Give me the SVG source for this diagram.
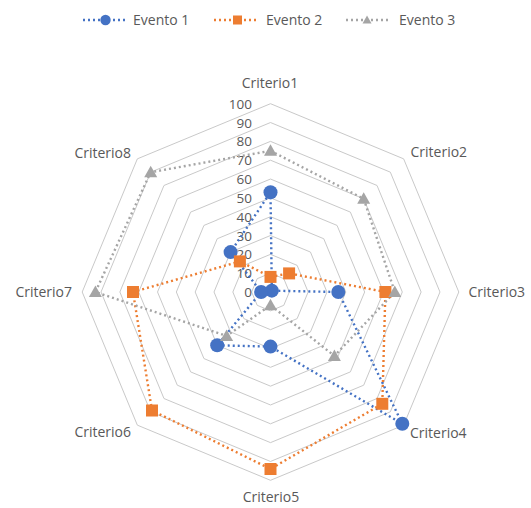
<svg xmlns="http://www.w3.org/2000/svg" width="531" height="508" viewBox="0 0 531 508">
<style>
  text { font-family: "Open Sans", "Liberation Sans", sans-serif; fill: #595959; }
  .lbl { font-size: 14px; }
  .num { font-size: 13.5px; text-anchor: end; }
  .grid polygon { fill: none; stroke: #c9c9c9; stroke-width: 1; }
  .s1 { fill: none; stroke: #4472C4; stroke-width: 2.4; stroke-dasharray: 2 3; stroke-linejoin: round; }
  .s2 { fill: none; stroke: #ED7D31; stroke-width: 2.4; stroke-dasharray: 2 3; stroke-linejoin: round; }
  .s3 { fill: none; stroke: #A5A5A5; stroke-width: 2.4; stroke-dasharray: 2 3; stroke-linejoin: round; }
</style>
<defs>
  <circle id="m1" r="7" fill="#4472C4"/>
  <rect id="m2" x="-6" y="-6" width="12" height="12" fill="#ED7D31"/>
  <polygon id="m3" points="0,-6.5 6.5,5 -6.5,5" fill="#A5A5A5"/>
  <circle id="l1" r="5.2" fill="#4472C4"/>
  <rect id="l2" x="-4.5" y="-4.5" width="9" height="9" fill="#ED7D31"/>
  <polygon id="l3" points="0,-4.5 4.5,3.5 -4.5,3.5" fill="#A5A5A5"/>
</defs>
<rect width="531" height="508" fill="#ffffff"/>

<g id="legend">
  <line class="s1" x1="83" y1="20" x2="126" y2="20"/>
  <use href="#l1" x="105.5" y="20"/>
  <text class="lbl" x="133" y="25">Evento 1</text>
  <line class="s2" x1="214" y1="20" x2="258" y2="20"/>
  <use href="#l2" x="237.5" y="20"/>
  <text class="lbl" x="266" y="25">Evento 2</text>
  <line class="s3" x1="346" y1="20" x2="390" y2="20"/>
  <use href="#l3" x="367" y="20"/>
  <text class="lbl" x="399" y="25">Evento 3</text>
</g>

<g id="grid" class="grid" transform="translate(270.5,292)">
  <polygon points="0,-18.83 13.31,-13.31 18.83,0 13.31,13.31 0,18.83 -13.31,13.31 -18.83,0 -13.31,-13.31"/>
  <polygon points="0,-37.66 26.63,-26.63 37.66,0 26.63,26.63 0,37.66 -26.63,26.63 -37.66,0 -26.63,-26.63"/>
  <polygon points="0,-56.49 39.94,-39.94 56.49,0 39.94,39.94 0,56.49 -39.94,39.94 -56.49,0 -39.94,-39.94"/>
  <polygon points="0,-75.32 53.26,-53.26 75.32,0 53.26,53.26 0,75.32 -53.26,53.26 -75.32,0 -53.26,-53.26"/>
  <polygon points="0,-94.15 66.57,-66.57 94.15,0 66.57,66.57 0,94.15 -66.57,66.57 -94.15,0 -66.57,-66.57"/>
  <polygon points="0,-112.98 79.89,-79.89 112.98,0 79.89,79.89 0,112.98 -79.89,79.89 -112.98,0 -79.89,-79.89"/>
  <polygon points="0,-131.81 93.2,-93.2 131.81,0 93.2,93.2 0,131.81 -93.2,93.2 -131.81,0 -93.2,-93.2"/>
  <polygon points="0,-150.64 106.52,-106.52 150.64,0 106.52,106.52 0,150.64 -106.52,106.52 -150.64,0 -106.52,-106.52"/>
  <polygon points="0,-169.47 119.83,-119.83 169.47,0 119.83,119.83 0,169.47 -119.83,119.83 -169.47,0 -119.83,-119.83"/>
  <polygon points="0,-188.3 133.15,-133.15 188.3,0 133.15,133.15 0,188.3 -133.15,133.15 -188.3,0 -133.15,-133.15"/>
</g>

<g id="axis-values">
  <text class="num" x="252" y="297">0</text>
  <text class="num" x="252" y="278.2">10</text>
  <text class="num" x="252" y="259.3">20</text>
  <text class="num" x="252" y="240.5">30</text>
  <text class="num" x="252" y="221.7">40</text>
  <text class="num" x="252" y="202.9">50</text>
  <text class="num" x="252" y="184">60</text>
  <text class="num" x="252" y="165.2">70</text>
  <text class="num" x="252" y="146.4">80</text>
  <text class="num" x="252" y="127.5">90</text>
  <text class="num" x="252" y="108.7">100</text>
</g>

<g id="category-labels">
  <text class="lbl" x="270" y="88" text-anchor="middle">Criterio1</text>
  <text class="lbl" x="410.5" y="157">Criterio2</text>
  <text class="lbl" x="468.5" y="297">Criterio3</text>
  <text class="lbl" x="410" y="438">Criterio4</text>
  <text class="lbl" x="271" y="502" text-anchor="middle">Criterio5</text>
  <text class="lbl" x="131" y="437" text-anchor="end">Criterio6</text>
  <text class="lbl" x="72" y="297" text-anchor="end">Criterio7</text>
  <text class="lbl" x="131" y="158" text-anchor="end">Criterio8</text>
</g>

<g id="connectors" transform="translate(270.5,292)">
  <polygon id="evento1-line" class="s1" points="0,-99.8 1.33,-1.33 67.8,0 131.8,131.8 0,54.6 -53.3,53.3 -9.4,0 -39.9,-39.9"/>
  <polygon id="evento2-line" class="s2" points="0,-15.1 18.6,-18.6 114.9,0 111.8,111.8 0,177 -118.5,118.5 -137.5,0 -30.6,-30.6"/>
  <polygon id="evento3-line" class="s3" points="0,-141.2 93.2,-93.2 124.3,0 63.9,63.9 0,13.2 -43.9,43.9 -175.1,0 -119.8,-119.8"/>
</g>

<g id="evento1-points" transform="translate(270.5,292)">
  <use href="#m1" x="0" y="-99.8"/>
  <use href="#m1" x="1.33" y="-1.33"/>
  <use href="#m1" x="67.8" y="0"/>
  <use href="#m1" x="131.8" y="131.8"/>
  <use href="#m1" x="0" y="54.6"/>
  <use href="#m1" x="-53.3" y="53.3"/>
  <use href="#m1" x="-9.4" y="0"/>
  <use href="#m1" x="-39.9" y="-39.9"/>
</g>
<g id="evento2-points" transform="translate(270.5,292)">
  <use href="#m2" x="0" y="-15.1"/>
  <use href="#m2" x="18.6" y="-18.6"/>
  <use href="#m2" x="114.9" y="0"/>
  <use href="#m2" x="111.8" y="111.8"/>
  <use href="#m2" x="0" y="177"/>
  <use href="#m2" x="-118.5" y="118.5"/>
  <use href="#m2" x="-137.5" y="0"/>
  <use href="#m2" x="-30.6" y="-30.6"/>
</g>
<g id="evento3-points" transform="translate(270.5,292)">
  <use href="#m3" x="0" y="-141.2"/>
  <use href="#m3" x="93.2" y="-93.2"/>
  <use href="#m3" x="124.3" y="0"/>
  <use href="#m3" x="63.9" y="63.9"/>
  <use href="#m3" x="0" y="13.2"/>
  <use href="#m3" x="-43.9" y="43.9"/>
  <use href="#m3" x="-175.1" y="0"/>
  <use href="#m3" x="-119.8" y="-119.8"/>
</g>
</svg>
